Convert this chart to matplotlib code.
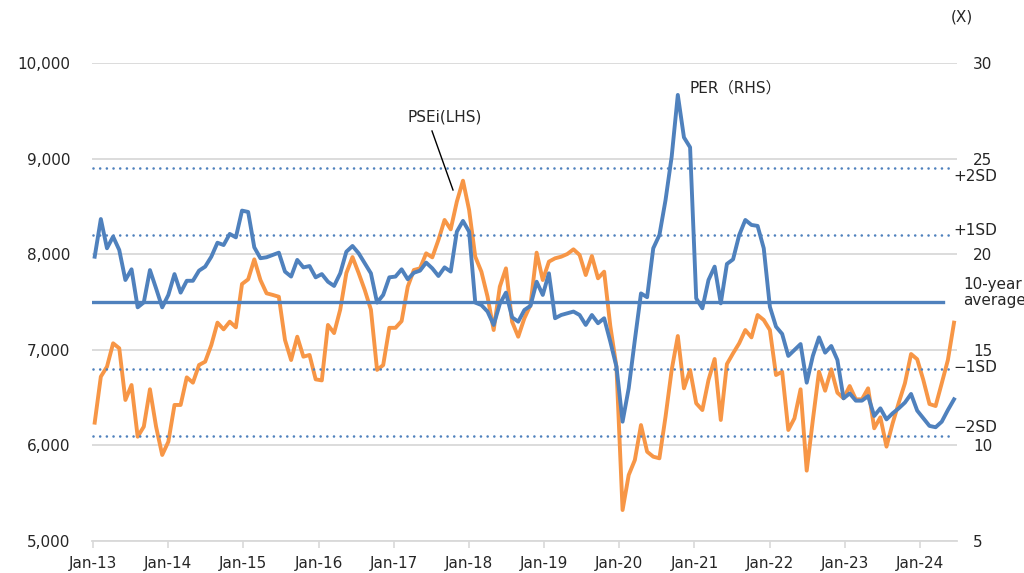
import matplotlib
matplotlib.use('Agg')
import matplotlib.pyplot as plt
import numpy as np

# ---------------- data (monthly, Jan-2013 .. Sep-2024) ----------------
psei = [6238, 6719, 6823, 7068, 7016, 6475, 6632, 6091, 6196, 6587,
        6196, 5900, 6039, 6423, 6423, 6712, 6656, 6841, 6876, 7050,
        7284, 7214, 7294, 7235, 7688, 7737, 7946, 7730, 7591, 7574,
        7555, 7103, 6893, 7137, 6928, 6946, 6691, 6680, 7260, 7175,
        7420, 7803, 7970, 7803, 7625, 7420, 6790, 6840, 7230, 7230,
        7300, 7660, 7835, 7852, 8009, 7967, 8149, 8358, 8260, 8550,
        8769, 8462, 7974, 7817, 7556, 7207, 7660, 7852, 7294, 7137,
        7329, 7469, 8016, 7730, 7922, 7957, 7974, 8002, 8051, 7992,
        7782, 7981, 7748, 7817, 7250, 6823, 5324, 5690, 5847, 6213,
        5934, 5882, 5865, 6300, 6789, 7144, 6597, 6789, 6440, 6370,
        6684, 6904, 6266, 6851, 6963, 7068, 7207, 7130, 7364, 7312,
        7207, 6736, 6771, 6161, 6283, 6587, 5736, 6266, 6771, 6572,
        6796, 6551, 6493, 6621, 6482, 6482, 6597, 6179, 6294, 5987,
        6231, 6447, 6650, 6956, 6901, 6684, 6433, 6412, 6650, 6893, 7284]

per = [19.87, 21.84, 20.31, 20.92, 20.22, 18.65, 19.21, 17.22, 17.48, 19.17,
       18.21, 17.22, 17.87, 18.96, 17.99, 18.61, 18.61, 19.14, 19.35, 19.87,
       20.60, 20.48, 21.06, 20.88, 22.28, 22.21, 20.36, 19.79, 19.84, 19.96,
       20.08, 19.09, 18.83, 19.70, 19.31, 19.38, 18.79, 18.96, 18.56, 18.34,
       19.00, 20.13, 20.43, 20.05, 19.52, 19.00, 17.47, 17.87, 18.79, 18.83,
       19.21, 18.69, 19.03, 19.14, 19.56, 19.26, 18.86, 19.31, 19.09, 21.18,
       21.74, 21.18, 17.47, 17.34, 17.00, 16.30, 17.40, 17.99, 16.70, 16.47,
       17.08, 17.30, 18.56, 17.87, 19.00, 16.65, 16.82, 16.91, 17.00, 16.82,
       16.30, 16.82, 16.39, 16.65, 15.43, 14.12, 11.24, 12.99, 15.51, 17.95,
       17.75, 20.31, 21.00, 22.83, 25.10, 28.33, 26.11, 25.59, 17.69, 17.17,
       18.65, 19.35, 17.43, 19.49, 19.73, 21.00, 21.79, 21.53, 21.48, 20.31,
       17.25, 16.21, 15.83, 14.68, 14.99, 15.30, 13.28, 14.68, 15.65, 14.85,
       15.20, 14.47, 12.46, 12.72, 12.34, 12.34, 12.58, 11.54, 11.94, 11.36,
       11.68, 11.94, 12.24, 12.69, 11.82, 11.42, 11.02, 10.95, 11.24, 11.85, 12.41]

tick_labels = ['Jan-13', 'Jan-14', 'Jan-15', 'Jan-16', 'Jan-17', 'Jan-18',
               'Jan-19', 'Jan-20', 'Jan-21', 'Jan-22', 'Jan-23', 'Jan-24']
avg_level = 17.5
sd_levels = [24.5, 21.0, 14.0, 10.5]
sd_labels = ['+2SD', '+1SD', '\u22121SD', '\u22122SD']

# ---------------- styling ----------------
plt.rcParams['font.family'] = ['DejaVu Sans', 'Noto Sans CJK JP']
plt.rcParams['lines.scale_dashes'] = False
TXT = '#262626'
GRID = '#d9d9d9'
BLUE = '#4f81bd'
ORANGE = '#f79646'

W, H = 1024, 573
fig = plt.figure(figsize=(W / 100, H / 100), dpi=100)

def fx(px):
    return px / W

def fy(py):
    return 1 - py / H

ax = fig.add_axes([fx(92), fy(541), fx(957) - fx(92), fy(63) - fy(541)])
ax2 = ax.twinx()

x = np.arange(len(psei))
step = 6.138  # px per month in the reference
x_left = (92 - 94.7) / step
x_right = (957 - 94.7) / step

# left axis: PSEi
ax.plot(x, psei, color=ORANGE, lw=2.8, solid_joinstyle='round', zorder=3)
ax.set_ylim(5000, 10000)
ax.set_yticks(np.arange(5000, 10001, 1000))
ax.set_yticklabels([f'{v:,}' for v in range(5000, 10001, 1000)])
ax.set_xlim(x_left, x_right)
tick_pos = [(93 + 75.18 * k - 94.7) / step for k in range(len(tick_labels))]
ax.set_xticks(tick_pos)
ax.set_xticklabels(tick_labels)
ax.yaxis.grid(True, color=GRID, lw=1.3)
ax.set_axisbelow(True)
for s in ['top', 'left', 'right']:
    ax.spines[s].set_visible(False)
ax.spines['bottom'].set_color(GRID)
ax.spines['bottom'].set_linewidth(1.3)
ax.tick_params(axis='y', length=0, pad=15.5, labelsize=11, labelcolor=TXT)
ax.tick_params(axis='x', length=5, color=GRID, width=1.2, pad=6, labelsize=11, labelcolor=TXT)

# right axis: PER and bands
ax2.set_ylim(5, 30)
ax2.set_yticks(np.arange(5, 31, 5))
for s in ['top', 'left', 'right', 'bottom']:
    ax2.spines[s].set_visible(False)
ax2.tick_params(axis='y', length=0, pad=11.5, labelsize=11, labelcolor=TXT)
for lvl in sd_levels:
    ax2.axhline(lvl, xmin=0.001, xmax=0.994, color=BLUE, lw=1.9,
                linestyle=(0, (0.01, 4.8)), dash_capstyle='round', zorder=2)
ax2.axhline(avg_level, xmin=0.0, xmax=0.984, color=BLUE, lw=2.4, zorder=2)
ax2.plot(x, per, color=BLUE, lw=2.8, solid_joinstyle='round', zorder=4)

# right-side band labels
label_y = [177, 231, 368, 427]
for lab, yy in zip(sd_labels, label_y):
    fig.text(fx(953), fy(yy), lab, fontsize=11, color=TXT, ha='left', va='center')
fig.text(fx(963), fy(285), '10-year', fontsize=11, color=TXT, ha='left', va='center')
fig.text(fx(963), fy(301), 'average', fontsize=11, color=TXT, ha='left', va='center')
fig.text(fx(962), fy(17), '(X)', fontsize=11, color=TXT, ha='center', va='center')

# annotations
fig.text(fx(445), fy(117), 'PSEi(LHS)', fontsize=11, color=TXT, ha='center', va='center')
fig.text(fx(735), fy(88), 'PER\uff08RHS\uff09', fontsize=11, color=TXT, ha='center', va='center')
fig.add_artist(plt.Line2D([fx(432), fx(453)], [fy(131), fy(190)], color='black', lw=1.0))

fig.savefig('out.png', dpi=100)
